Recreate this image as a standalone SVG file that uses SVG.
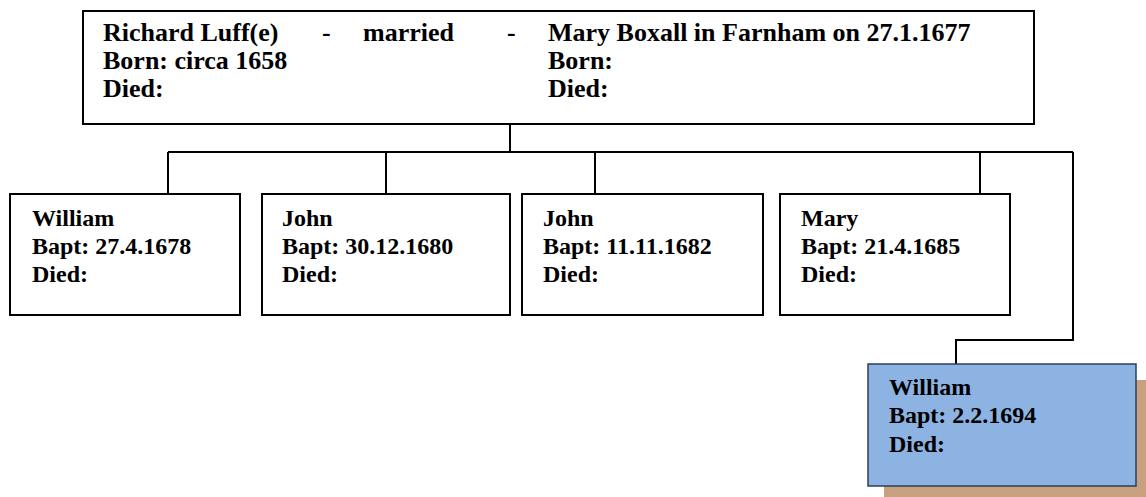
<svg xmlns="http://www.w3.org/2000/svg" width="1146" height="497" viewBox="0 0 1146 497">
<style>
.box{fill:#fff;stroke:#000;stroke-width:2}
.blue{fill:#8DB3E2;stroke:#2b3f5c;stroke-width:1.5}
.shadow{fill:#C8A080;stroke:none}
.t{font-family:"Liberation Serif","Times New Roman",serif;font-weight:bold;font-size:24px;fill:#000}
.tt{font-family:"Liberation Serif","Times New Roman",serif;font-weight:bold;font-size:26px;fill:#000}
.c{fill:none;stroke:#000;stroke-width:2}
</style>
<rect width="1146" height="497" fill="#fff"/>
<g id="connectors">
<path class="c" d="M510 124V152M168 152H1073M168 152V194M386 152V194M595 152V194M980 152V194M1073 152V340H956V364"/>
</g>
<g id="parents">
<rect class="box" x="83" y="11" width="951" height="113"/>
<text class="tt" x="103" y="41">Richard Luff(e)</text>
<text class="tt" x="322" y="41">-</text>
<text class="tt" x="363" y="41">married</text>
<text class="tt" x="507" y="41">-</text>
<text class="tt" x="548" y="41">Mary Boxall in Farnham on 27.1.1677</text>
<text class="tt" x="103" y="69">Born: circa 1658</text>
<text class="tt" x="548" y="69">Born:</text>
<text class="tt" x="103" y="97">Died:</text>
<text class="tt" x="548" y="97">Died:</text>
</g>
<g id="william1">
<rect class="box" x="10" y="194" width="230" height="121"/>
<text class="t" x="32" y="226">William</text>
<text class="t" x="32" y="254">Bapt: 27.4.1678</text>
<text class="t" x="32" y="282">Died:</text>
</g>
<g id="john1">
<rect class="box" x="262" y="194" width="248" height="121"/>
<text class="t" x="282" y="226">John</text>
<text class="t" x="282" y="254">Bapt: 30.12.1680</text>
<text class="t" x="282" y="282">Died:</text>
</g>
<g id="john2">
<rect class="box" x="522" y="194" width="241" height="121"/>
<text class="t" x="543" y="226">John</text>
<text class="t" x="543" y="254">Bapt: 11.11.1682</text>
<text class="t" x="543" y="282">Died:</text>
</g>
<g id="mary">
<rect class="box" x="780" y="194" width="230" height="121"/>
<text class="t" x="801" y="226">Mary</text>
<text class="t" x="801" y="254">Bapt: 21.4.1685</text>
<text class="t" x="801" y="282">Died:</text>
</g>
<g id="william2">
<rect class="shadow" x="884" y="380" width="268" height="122"/>
<rect class="blue" x="868" y="364" width="268" height="122"/>
<text class="t" x="889" y="395">William</text>
<text class="t" x="889" y="423">Bapt: 2.2.1694</text>
<text class="t" x="889" y="452">Died:</text>
</g>
</svg>
